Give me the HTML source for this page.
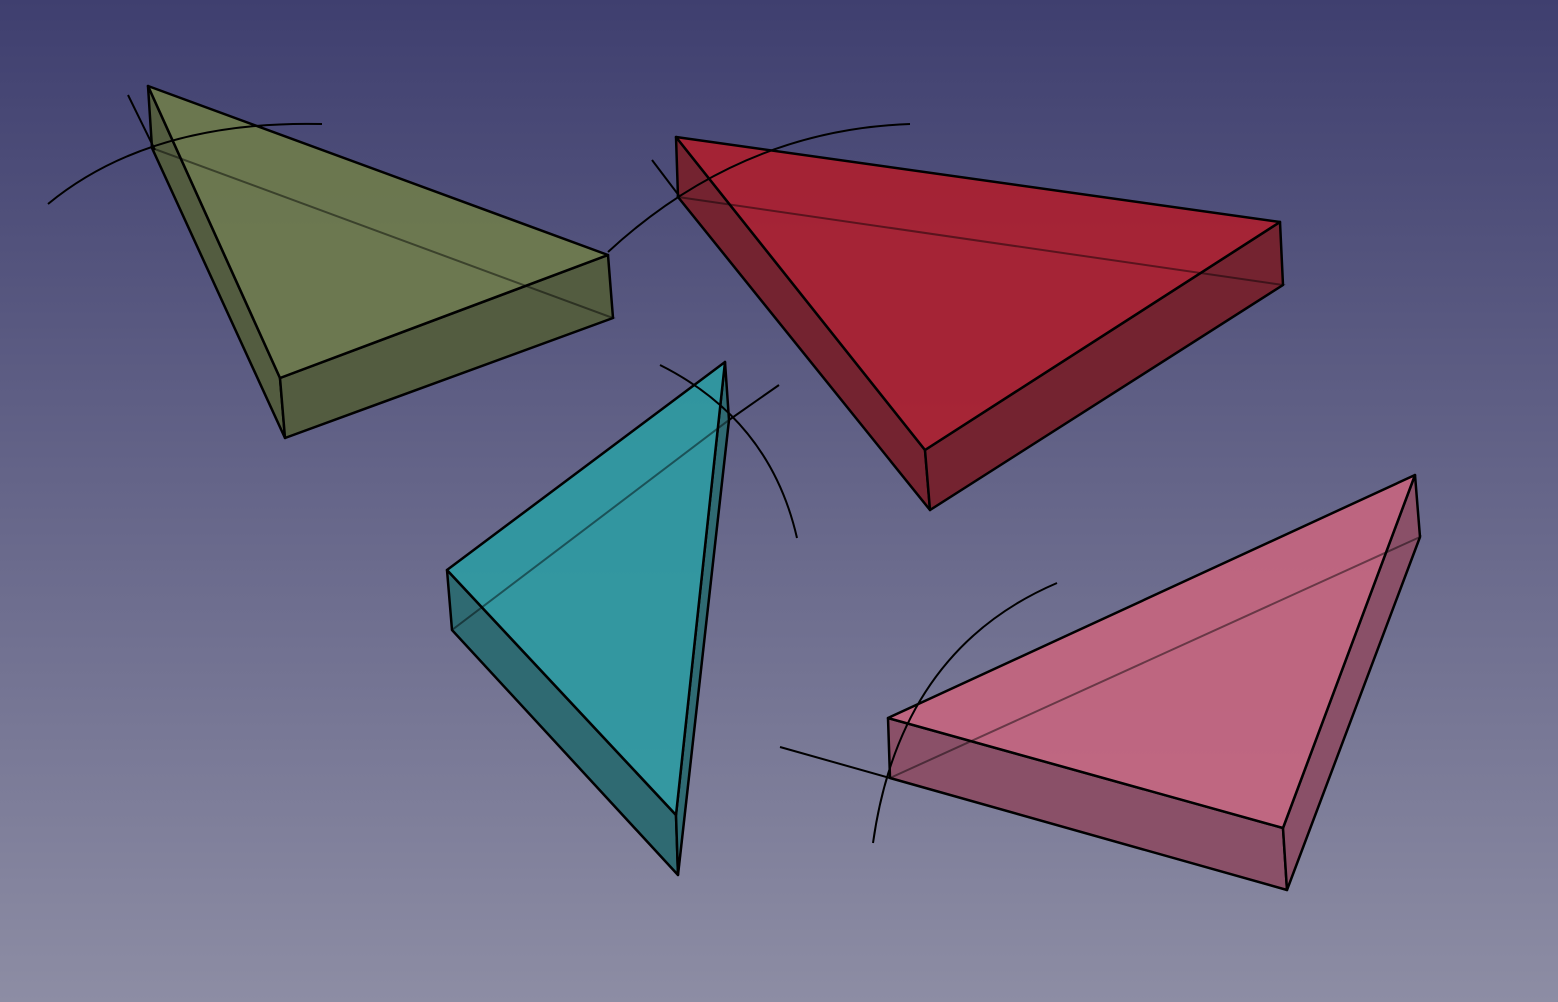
<!DOCTYPE html>
<html><head><meta charset="utf-8">
<style>
html,body{margin:0;padding:0;width:1558px;height:1002px;overflow:hidden;}
svg{display:block;}
</style></head>
<body>
<svg id="scene" width="1558" height="1002" viewBox="0 0 1558 1002" xmlns="http://www.w3.org/2000/svg">
<defs>
<linearGradient id="bg" x1="0" y1="0" x2="0" y2="1">
<stop offset="0" stop-color="#3f3f6f"/>
<stop offset="1" stop-color="#8d8da4"/>
</linearGradient>
</defs>
<rect width="1558" height="1002" fill="url(#bg)"/>
<g id="prisms"></g>
</svg>
<script>
const prismNames = ['olive-prism','red-prism','cyan-prism','pink-prism'];
const topFaces = [
  [[148,86],[608,255],[280,378]],
  [[676,137],[1280,222],[925,450]],
  [[447,570],[725,362],[676,815]],
  [[888,718],[1415,475],[1283,828]]
];
const bottomFaces = [
  [[152,148],[613,318],[285,438]],
  [[678,197],[1283,285],[930,510]],
  [[452,630],[729,420],[678,875]],
  [[890,778],[1420,537],[1287,890]]
];
const topColors = ['#6e7b4c','#ab2030','#2e9aa1','#c4657f'];
const sideColors = ['#535c40','#742330','#2f6a72','#8a5068'];
const guidePaths = [
  'M128,95 L155,150', 'M48,204 Q150,120 322,124',
  'M652,160 L680,197', 'M608,252 Q740,130 910,124',
  'M779,385 L729,420', 'M660,365 Q770,420 797,538',
  'M780,747 L890,778', 'M873,843 Q900,650 1057,583'
];
const NS='http://www.w3.org/2000/svg';
const g=document.getElementById('prisms');
function pts(a){return a.map(p=>p.join(',')).join(' ');}
function poly(points,fill,name){
  const p=document.createElementNS(NS,'polygon');
  p.setAttribute('points',pts(points));
  p.setAttribute('fill',fill);
  p.setAttribute('stroke','#000');
  p.setAttribute('stroke-width','2.5');
  p.setAttribute('stroke-linejoin','round');
  
  
  return p;
}
topFaces.forEach((t,i)=>{
  const b=bottomFaces[i];
  const grp=document.createElementNS(NS,'g');
  
  
  grp.appendChild(poly([t[0],t[2],b[2],b[0]],sideColors[i],'side-face'));
  grp.appendChild(poly([t[2],t[1],b[1],b[2]],sideColors[i],'side-face'));
  const top=poly(t,topColors[i],'top-face');
  top.setAttribute('fill-opacity','0.93');
  grp.appendChild(top);
  // hidden edges seen through translucent faces
  const hid=document.createElementNS(NS,'polyline');
  hid.setAttribute('points',pts([b[2],b[0],b[1],b[2]]));
  hid.setAttribute('fill','none');
  hid.setAttribute('stroke','rgba(0,0,0,0.45)');
  hid.setAttribute('stroke-width','2');
  
  
  grp.appendChild(hid);
  g.appendChild(grp);
});
guidePaths.forEach(d=>{
  const p=document.createElementNS(NS,'path');
  p.setAttribute('d',d);
  p.setAttribute('fill','none');
  p.setAttribute('stroke','#000');
  p.setAttribute('stroke-width','2');
  
  
  g.appendChild(p);
});
</script>
</body></html>
